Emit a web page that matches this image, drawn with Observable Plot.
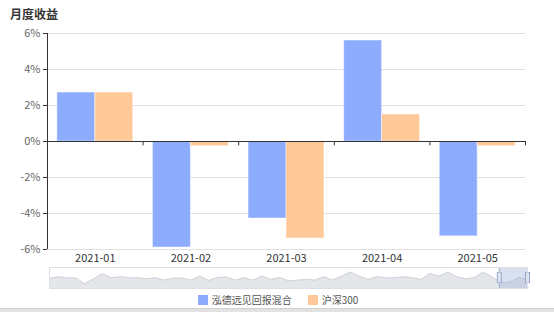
<!DOCTYPE html>
<html>
<head>
<meta charset="utf-8">
<script src="https://cdn.jsdelivr.net/npm/d3@7"></script>
<script src="https://cdn.jsdelivr.net/npm/@observablehq/plot@0.6"></script>
<style>
  html, body { margin: 0; padding: 0; background: #fff; }
  body { width: 554px; height: 312px; position: relative; overflow: hidden;
         font-family: "Noto Sans CJK SC", "Noto Sans", sans-serif; }
  #title { position: absolute; left: 10px; top: 5px; font-size: 12px; font-weight: bold; color: #333; line-height: 18px; }
  #chart { position: absolute; left: 0; top: 22px; }
  #slider { position: absolute; left: 0; top: 265px; }
  #legend { position: absolute; left: 0; top: 292px; width: 554px; display: flex; justify-content: center;
            font-size: 10px; color: #555; line-height: 16px; padding-left: 2px; box-sizing: border-box; }
  .item { display: flex; align-items: center; margin: 0 8px; }
  .sw { width: 10px; height: 10px; margin-right: 4px; }
  #bottom { position: absolute; left: 0; top: 308px; width: 554px; height: 4px; background: #e2e2e2; border-top: 1px solid #d2d2d2; }
</style>
</head>
<body>
<div id="title">月度收益</div>
<div id="chart"></div>
<div id="slider"></div>
<div id="legend"></div>
<div id="bottom"></div>
<script>
// ---- data ----
const months = ["2021-01", "2021-02", "2021-03", "2021-04", "2021-05"];
const seriesNames = ["泓德远见回报混合", "沪深300"];
const fundReturns = [2.72, -5.89, -4.28, 5.61, -5.27];
const indexReturns = [2.72, -0.26, -5.39, 1.50, -0.26];
const yTicks = [-6, -4, -2, 0, 2, 4, 6];
const seriesColors = ["#8eacfe", "#ffc899"];
// overview (data zoom) series and window, in percent of the full range
const sliderValues = [30, 35, 32, 31, 14, 29, 44, 32, 35, 32, 32, 29, 32, 25, 31, 31, 25, 37, 24, 33,
  34, 25, 32, 25, 37, 27, 33, 23, 25, 27, 25, 35, 25, 37, 49, 37, 27, 35, 32, 32,
  35, 32, 27, 45, 37, 49, 35, 29, 32, 49, 35, 17, 19, 32, 27];
const zoomWindow = [94.1, 100];

// ---- table ----
const rows = months.flatMap((m, i) => [
  {month: m, series: seriesNames[0], value: fundReturns[i]},
  {month: m, series: seriesNames[1], value: indexReturns[i]}
]);

// ---- layout (style) ----
const W = 554, H = 243, mL = 47, mR = 29, mT = 11, mB = 16;
const padOuter = 0.26;
const facetW = (W - mL - mR) / months.length;
const step = facetW / (2 + 2 * padOuter);
const edge = step / 2 + padOuter * step;
const font = '"Noto Sans CJK SC", "Noto Sans", sans-serif';

const chart = Plot.plot({
  width: W, height: H, marginTop: mT, marginBottom: mB, marginLeft: mL, marginRight: mR,
  style: {fontFamily: font, fontSize: "11px", background: "transparent"},
  fx: {domain: months, padding: 0, round: false, label: null},
  x: {domain: seriesNames, paddingInner: 0, paddingOuter: padOuter, round: false, axis: null},
  y: {domain: [-6, 6], label: null},
  color: {domain: seriesNames, range: seriesColors},
  marks: [
    Plot.gridY(yTicks.filter(d => d !== 0), {stroke: "#e0e0e0", strokeOpacity: 1}),
    Plot.barY(rows, {fx: "month", x: "series", y: "value", fill: "series",
      stroke: "#ffffff", strokeOpacity: 0.45, strokeWidth: 1}),
    Plot.ruleY([0], {stroke: "#333"}),
    // category boundary ticks on the zero line
    Plot.ruleX(months, {fx: d => d, x: () => seriesNames[1], dx: edge, y1: 0, y2: -0.24, stroke: "#333"}),
    // left axis line
    Plot.ruleX([months[0]], {fx: d => d, x: () => seriesNames[0], dx: -edge, y1: -6, y2: 6, stroke: "#333"}),
    Plot.axisY(yTicks, {tickFormat: d => d + "%", tickSize: 4, tickPadding: 3, stroke: "#333", fill: "#666", label: null}),
    Plot.axisFx({anchor: "bottom", tickSize: 0, tickPadding: 5, fill: "#333", label: null})
  ]
});
document.getElementById("chart").appendChild(chart);

// ---- overview slider ----
const n = sliderValues.length;
const slider = Plot.plot({
  width: W, height: 26, marginTop: 2, marginBottom: 3, marginLeft: 49, marginRight: 27,
  style: {background: "transparent"},
  x: {domain: [0, 100], axis: null},
  y: {domain: [0, 63], axis: null},
  marks: [
    Plot.areaY(sliderValues, {x: (d, i) => i / (n - 1) * 100, y: d => d, fill: "#e4e6ea"}),
    Plot.lineY(sliderValues, {x: (d, i) => i / (n - 1) * 100, y: d => d, stroke: "#cfd3d9", strokeWidth: 1}),
    Plot.rect([zoomWindow], {x1: d => d[0], x2: d => d[1], y1: 0, y2: 63, fill: "#9fb2d6", fillOpacity: 0.4}),
    Plot.ruleX(zoomWindow, {x: d => d, y1: 0, y2: 63, stroke: "#a3b2cc"}),
    Plot.ruleX(zoomWindow, {x: d => d, y1: 15, y2: 48, stroke: "#95a7c6", strokeWidth: 5}),
    Plot.ruleX(zoomWindow, {x: d => d, y1: 17, y2: 46, stroke: "#dfe5ef", strokeWidth: 3}),
    Plot.frame({stroke: "#dcdfe4"})
  ]
});
document.getElementById("slider").appendChild(slider);

// ---- legend ----
const legend = document.getElementById("legend");
seriesNames.forEach((s, i) => {
  const it = document.createElement("div");
  it.className = "item";
  const sw = document.createElement("span");
  sw.className = "sw";
  sw.style.background = seriesColors[i];
  const tx = document.createElement("span");
  tx.textContent = s;
  it.appendChild(sw); it.appendChild(tx);
  legend.appendChild(it);
});
</script>
</body>
</html>
